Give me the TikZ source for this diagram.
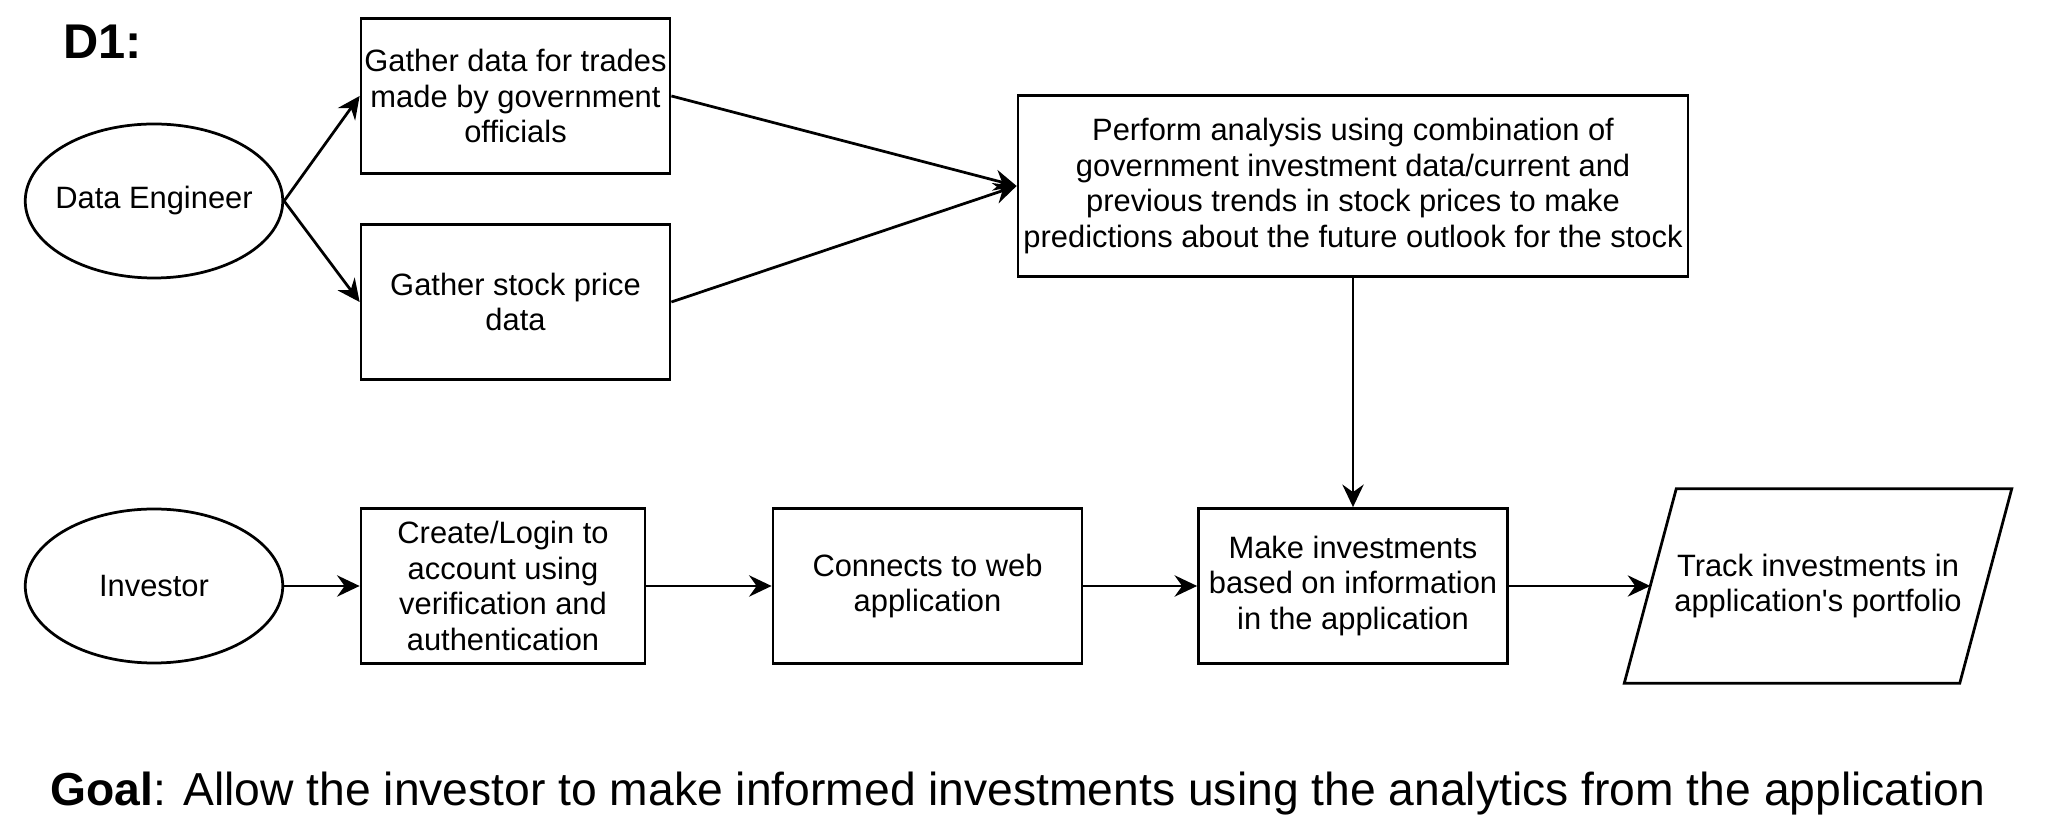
\documentclass[tikz,border=0pt]{standalone}
\usepackage{fontspec}
\setmainfont{Liberation Sans}
\usepackage{tikz}
\usepackage{xcolor}
\usetikzlibrary{shapes.geometric, arrows.meta, positioning, calc}
\tikzstyle{process} = [rectangle, minimum width=123.6pt, minimum height=62pt, inner sep=1pt,
                  text centered, align=center, draw=black, line width=1.1pt]
\tikzstyle{actor} = [ellipse, minimum width=103pt, minimum height=61.6pt,
                  inner xsep=-4pt, inner ysep=0pt, draw=black, line width=1.1pt]
\tikzstyle{output} = [rectangle, minimum width=133.8pt, minimum height=77.4pt, align=center]
\tikzstyle{arrow} = [-{Stealth[length=9pt, width=8.5pt, inset=3pt]}, line width=1.1pt]

\begin{document}
\begin{tikzpicture}[x=0.4pt, y=-0.4pt, font=\fontsize{12.35}{14.3}\selectfont]
    \useasboundingbox (0,0) rectangle (2072,830);
    \node[anchor=base west, inner sep=0pt, font=\fontsize{19.5}{21}\selectfont\bfseries] (title) at (63,59) {D1:};

    % top row
    \node[actor] (eng) at (154,201) {Data Engineer};
    \node[process] (trades) at (515.5,96) {Gather data for trades\\made by government\\officials};
    \node[process] (prices) at (515.5,302) {Gather stock price\\data};
    \node[process, minimum width=268pt, minimum height=72.4pt] (analysis) at (1353,186)
        {Perform analysis using combination of\\government investment data/current and\\previous trends in stock prices to make\\predictions about the future outlook for the stock};

    % bottom row
    \node[actor] (inv) at (154,586) {Investor};
    \node[process, minimum width=113.6pt] (login) at (503,586) {Create/Login to\\account using\\verification and\\authentication};
    \node[process] (web) at (927.5,586) {Connects to web\\application};
    \node[process] (invest) at (1353,586) {Make investments\\based on information\\in the application};
    \node[output] (track) at (1818,586) {Track investments in\\application\textquotesingle s portfolio};
    \draw[line width=1.1pt] ($(track.south west)+(-26,0)$) -- ($(track.north west)+(26,0)$)
        -- ($(track.north east)+(26,0)$) -- ($(track.south east)+(-26,0)$) -- cycle;

    \draw[arrow] (eng.east) -- (trades.west);
    \draw[arrow] (eng.east) -- (prices.west);
    \draw[arrow] (trades.east) -- (analysis.west);
    \draw[arrow] (prices.east) -- (analysis.west);
    \draw[arrow] (analysis.south) -- (invest.north);
    \draw[arrow] (inv) -- (login);
    \draw[arrow] (login) -- (web);
    \draw[arrow] (web) -- (invest);
    \draw[arrow] (invest) -- (track);

    \node[anchor=base west, inner sep=0pt, font=\fontsize{18.5}{20}\selectfont] (goal) at (50,806)
        {\textbf{Goal}: Allow the investor to make informed investments using the analytics from the application};
\end{tikzpicture}
\end{document}
